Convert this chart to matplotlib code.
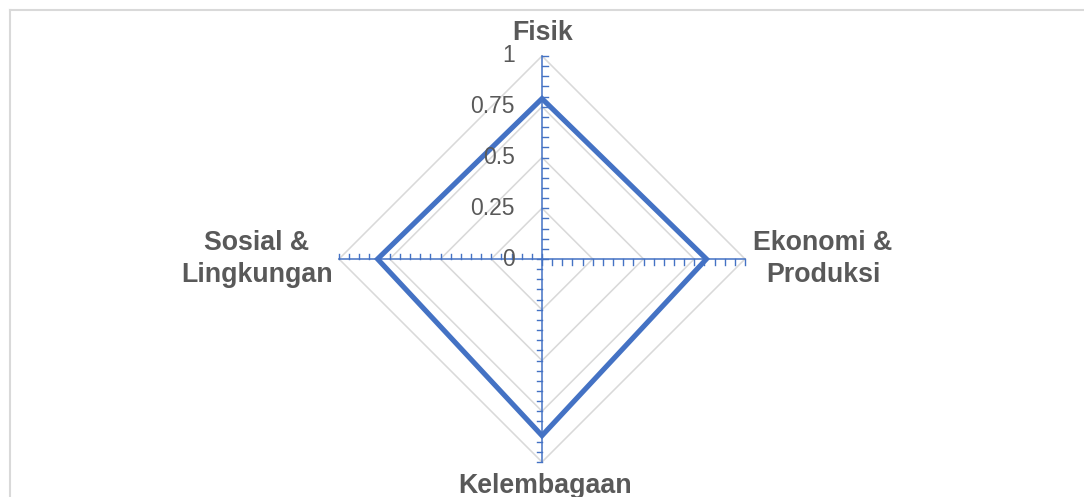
import numpy as np
import matplotlib
matplotlib.use("Agg")
import matplotlib.pyplot as plt
from matplotlib.patches import Polygon
from matplotlib.lines import Line2D

# Radar chart data
categories = ["Fisik", "Ekonomi &\nProduksi", "Kelembagaan", "Sosial &\nLingkungan"]
scores = [0.79, 0.81, 0.87, 0.81]
grid_levels = [0.25, 0.5, 0.75, 1.0]
tick_labels = ["0", "0.25", "0.5", "0.75", "1"]
tick_values = [0.0, 0.25, 0.5, 0.75, 1.0]

BLUE = "#4472C4"
GRID = "#D9D9D9"
TEXT = "#595959"
FONT = "Liberation Sans"

W, H, DPI = 1084, 497, 100
fig = plt.figure(figsize=(W / DPI, H / DPI), dpi=DPI)

# Axes spanning the whole figure; one data unit equals the chart radius
R_PX = 203.0
CX, CY = 542.0, 259.0
ax = fig.add_axes([0, 0, 1, 1])
ax.set_xlim(-CX / R_PX, (W - CX) / R_PX)
ax.set_ylim(-(H - CY) / R_PX, CY / R_PX)
ax.set_axis_off()

# Spoke directions: top, right, bottom, left (clockwise from top)
angles = np.pi / 2 - np.arange(len(categories)) * np.pi / 2
dirs = np.column_stack([np.cos(angles), np.sin(angles)])
dirs = np.round(dirs, 12)

def to_xy(values):
    v = np.asarray(values, dtype=float)[:, None]
    return dirs * v

# Diamond gridlines
for lvl in grid_levels:
    pts = to_xy([lvl] * len(categories))
    ax.add_patch(Polygon(pts, closed=True, fill=False, edgecolor=GRID,
                         linewidth=1.15, zorder=1))

# Data polygon
data_pts = to_xy(scores)
ax.add_patch(Polygon(data_pts, closed=True, fill=False, edgecolor=BLUE,
                     linewidth=3.7, joinstyle="miter", zorder=3))

# Spokes with minor tick marks every 0.05 on the clockwise side
tick_len = 5.5 / R_PX
tick_steps = np.arange(0, 1.0001, 0.05)
for d in dirs:
    ax.add_line(Line2D([0, d[0]], [0, d[1]], color=BLUE, linewidth=1.1, zorder=4))
    perp = np.array([d[1], -d[0]])
    for t in tick_steps:
        p = d * t
        q = p + perp * tick_len
        ax.add_line(Line2D([p[0], q[0]], [p[1], q[1]], color=BLUE,
                           linewidth=1.0, zorder=4))

# Value labels along the vertical spoke
for val, lab in zip(tick_values, tick_labels):
    ax.text(-27 / R_PX, val, lab, ha="right", va="center", fontsize=16.5,
            color=TEXT, family=FONT, zorder=5)

# Category labels
label_pos = [(0.005, 1.113), (1.384, 0.0), (0.015, -1.118), (-1.406, 0.0)]
for (lx, ly), name in zip(label_pos, categories):
    ax.text(lx, ly, name, ha="center", va="center", fontsize=19.3,
            fontweight="bold", color=TEXT, family=FONT,
            multialignment="center", linespacing=1.28, zorder=5)

# Chart area border (continues past the right and bottom edges)
bx, by = 10 / W, 1 - 9.5 / H
fig.add_artist(Line2D([bx, 1.01], [by, by], transform=fig.transFigure,
                      color=GRID, linewidth=1.5))
fig.add_artist(Line2D([bx, bx], [by, -0.01], transform=fig.transFigure,
                      color=GRID, linewidth=1.5))

fig.savefig("out.png", dpi=DPI, facecolor="white")
